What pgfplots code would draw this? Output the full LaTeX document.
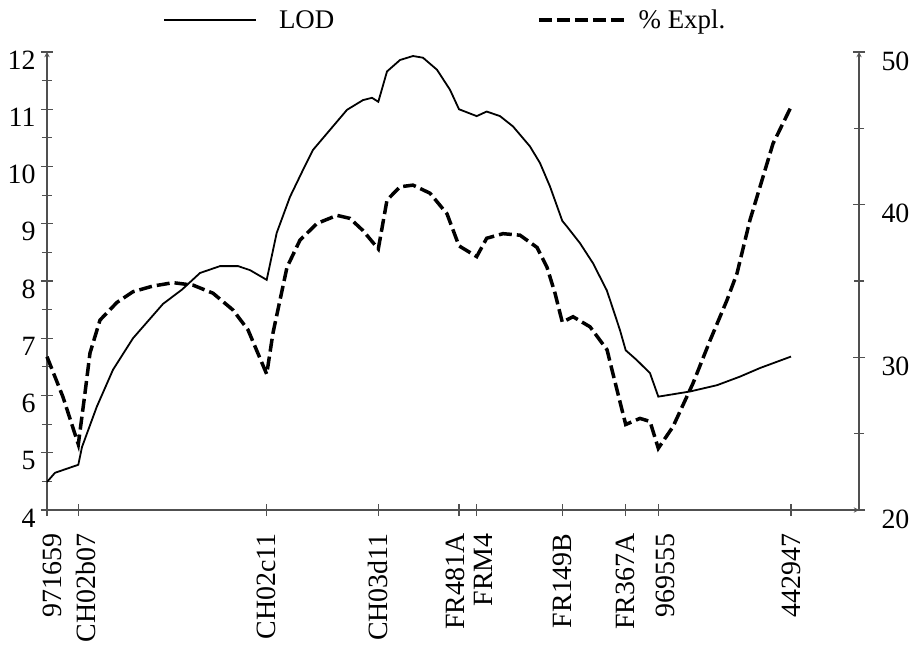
\documentclass[border=0pt]{standalone}
\usepackage{fontspec}
\setmainfont{Liberation Serif}
\usepackage{pgfplots}
\pgfplotsset{compat=1.18}
\definecolor{axgray}{RGB}{80,80,80}
\begin{document}
\begin{tikzpicture}
\pgfplotsset{
  common/.style={
    scale only axis, width=812bp, height=458bp,
    xmin=0, xmax=812,
    axis line style={-, axgray, line width=1.3bp},
    every tick/.style={axgray, line width=1.2bp},
    tick align=center,
    major tick length=12bp, minor tick length=10bp,
    /pgf/number format/assume math mode=true,
    tick label style={font=\fontsize{28}{30}\selectfont},
    clip=false,
    legend style={draw=none, fill=none, inner sep=0pt, anchor=west,
      font=\fontsize{27}{29}\selectfont},
  }
}
\begin{axis}[common,
  axis x line=bottom, axis y line=left,
  ymin=4, ymax=12, ytick={4,5,...,12}, minor ytick={4.5,5.5,...,11.5},
  xtick={0,31.3,219.7,331.3,412,429.7,515.3,578.7,611.3,744},
  xticklabels={\raisebox{-5.5bp}[\height][\depth]{971659},
    \raisebox{-8bp}[\height][\depth]{CH02b07},
    CH02c11, CH03d11,
    \raisebox{4bp}[\height][\depth]{FR481A},
    \raisebox{-7bp}[\height][\depth]{FRM4},
    FR149B, FR367A,
    \raisebox{-7.5bp}[\height][\depth]{969555},
    442947},
  xticklabel style={rotate=90, anchor=east},
  xticklabel shift=14bp,
  yticklabel style={yshift=-8bp},
  yticklabel shift=2bp,
  legend style={at={(0.1429,1.0699)}},
  legend image code/.code={\draw[#1] (0bp,0bp) -- (92bp,0bp);},
]
\coordinate (bl) at (rel axis cs:0,0);
\coordinate (tr) at (rel axis cs:1,1);
\addplot[black, line width=1.8bp] coordinates {
(0,4.49) (8,4.65) (31.3,4.79) (35,5.1) (49.7,5.8) (66,6.45) (86,7.0)
(106,7.4) (116,7.6) (135,7.85) (153,8.14) (173,8.26) (191,8.26) (203,8.19)
(219.7,8.02) (229.7,8.84) (243,9.47) (256,9.94) (266,10.29) (283,10.64)
(300,10.99) (316,11.16) (325,11.2) (331.3,11.13) (340,11.66) (353,11.86)
(366,11.93) (376,11.9) (390,11.69) (403,11.34) (412,11.0) (429.7,10.88)
(439.7,10.96) (453,10.88) (466,10.7) (483,10.35) (493,10.06) (503,9.65)
(515.3,9.05) (520,8.95) (533,8.66) (546,8.31) (559.7,7.84) (563,7.67)
(573,7.14) (578.7,6.79) (589.7,6.62) (603,6.39) (611.3,5.98) (643,6.07)
(670,6.18) (693,6.33) (713,6.48) (744,6.68)
};
\addlegendentry{\hspace{20bp}LOD}
\end{axis}
\begin{axis}[common,
  axis x line=none, axis y line=right,
  ymin=20, ymax=50, ytick={20,30,40,50}, minor ytick={25,35,45},
  yticklabel style={yshift=-9bp},
  yticklabel shift=13bp,
  legend style={at={(0.6034,1.0699)}},
  legend image code/.code={\draw[#1] (0bp,0bp) -- (88bp,0bp);},
]
\addplot[black, line width=3.5bp, dash pattern=on 13bp off 5bp] coordinates {
(0,30.04) (16,27.4) (31.3,24.3) (38,27.66) (43,30.28) (53,32.44) (70,33.6)
(86,34.3) (106,34.67) (126,34.89) (146,34.73) (166,34.2) (186,33.1)
(201,31.8) (219.7,28.9) (226,31.6) (233,33.75) (240,35.9) (253,37.68)
(270,38.77) (290,39.3) (303,39.1) (316,38.3) (331.3,37.1) (340,40.3)
(353,41.17) (366,41.28) (383,40.75) (400,39.4) (412,37.3) (429.7,36.6)
(439.7,37.8) (456,38.1) (473,38.0) (490,37.2) (500,35.9) (508,34.2)
(515.3,32.3) (526,32.66) (543,32.0) (560,30.5) (570,27.86) (578.7,25.6)
(593,26.0) (603,25.8) (611.3,24.04) (626,25.46) (646,28.3) (663,31.1)
(680,33.75) (690,35.5) (703,39.0) (713,41.17) (726,44.0) (744,46.4)
};
\addlegendentry{\hspace{8bp}\% Expl.}
\end{axis}
\pgfresetboundingbox
\path[use as bounding box] ([shift={(-47bp,-141bp)}]bl) rectangle ([shift={(58bp,52bp)}]tr);
\end{tikzpicture}
\end{document}
